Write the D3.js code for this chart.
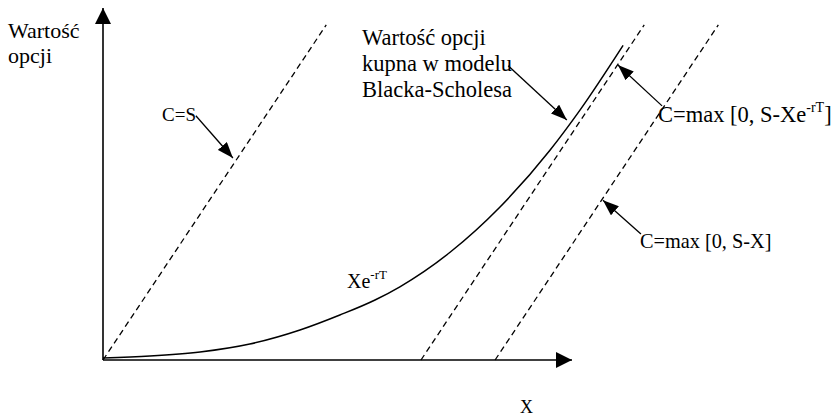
<!DOCTYPE html>
<html>
<head>
<meta charset="utf-8">
<script src="https://cdn.jsdelivr.net/npm/d3@7"></script>
<style>
  body { margin: 0; background: #fff; }
  text { font-family: "Liberation Serif", "Times New Roman", serif; fill: #000; }
</style>
</head>
<body>
<svg id="chart" width="835" height="418"></svg>
<script>
// schematic values: S on the x axis, C (option value) on the y axis
const discountedStrike = 67.8;   // X e^-rT
const strike = 83.6;             // X
const lineTop = 47.6;            // C where the dashed lines stop

// Black-Scholes call value
const bsS = [0, 10, 20.7, 31.3, 42, 50.5, 58, 63.3, 74, 84.6, 95.3, 101.7, 110.9];
const bsC = [0.3, 0.57, 1.14, 2.27, 4.26, 6.39, 8.52, 10.4, 15.3, 21.7, 29.8, 35.5, 44.7];

// annotation arrows [fromS, fromC, toS, toC]
const arrows = [
  [19.8, 34.7, 27.7, 28.7],   // C=S
  [86.4, 41.8, 98.9, 34.1],   // Black-Scholes
  [119.2, 36.1, 109.8, 41.9], // C=max [0, S-Xe^-rT]
  [114.7, 17.9, 106.6, 22.7]  // C=max [0, S-X]
];

const svg = d3.select("#chart");
const x = d3.scaleLinear().domain([0, 100]).range([103, 572]);
const y = d3.scaleLinear().domain([0, 50]).range([360, 8]);

const defs = svg.append("defs");
defs.append("marker").attr("id", "axisHead")
  .attr("viewBox", "0 0 16 16").attr("refX", 16).attr("refY", 8)
  .attr("markerWidth", 16).attr("markerHeight", 16)
  .attr("markerUnits", "userSpaceOnUse").attr("orient", "auto")
  .append("path").attr("d", "M0,0 L16,8 L0,16 Z").attr("fill", "#000");
defs.append("marker").attr("id", "noteHead")
  .attr("viewBox", "0 0 16 12").attr("refX", 16).attr("refY", 6)
  .attr("markerWidth", 16).attr("markerHeight", 12)
  .attr("markerUnits", "userSpaceOnUse").attr("orient", "auto")
  .append("path").attr("d", "M0,0 L16,6 L0,12 Z").attr("fill", "#000");

// axes
svg.append("line")
  .attr("x1", x(0)).attr("y1", y(0)).attr("x2", x(0)).attr("y2", y(50))
  .attr("stroke", "#000").attr("stroke-width", 1.6).attr("marker-end", "url(#axisHead)");
svg.append("line")
  .attr("x1", x(0)).attr("y1", y(0)).attr("x2", x(100)).attr("y2", y(0))
  .attr("stroke", "#000").attr("stroke-width", 1.6).attr("marker-end", "url(#axisHead)");

// dashed payoff lines
const starts = [0, discountedStrike, strike];
svg.selectAll(".payoff").data(starts).enter().append("line")
  .attr("class", "payoff")
  .attr("x1", d => x(d)).attr("y1", y(0))
  .attr("x2", d => x(d + lineTop)).attr("y2", y(lineTop))
  .attr("stroke", "#000").attr("stroke-width", 1.3).attr("stroke-dasharray", "6,4");

// Black-Scholes curve
const bs = bsS.map((s, i) => [s, bsC[i]]);
svg.append("path")
  .attr("d", d3.line().x(d => x(d[0])).y(d => y(d[1])).curve(d3.curveMonotoneX)(bs))
  .attr("fill", "none").attr("stroke", "#000").attr("stroke-width", 1.5);

// annotation arrows
svg.selectAll(".note").data(arrows).enter().append("line")
  .attr("class", "note")
  .attr("x1", d => x(d[0])).attr("y1", d => y(d[1]))
  .attr("x2", d => x(d[2])).attr("y2", d => y(d[3]))
  .attr("stroke", "#000").attr("stroke-width", 1.3).attr("marker-end", "url(#noteHead)");

// texts
const plain = (tx, ty, size, str) => svg.append("text")
  .attr("x", tx).attr("y", ty).style("font-size", size + "px").text(str);
plain(8, 38, 22, "Wartość");
plain(8, 63, 22, "opcji");
plain(362, 45, 22.5, "Wartość opcji");
plain(362, 71, 22.5, "kupna w modelu");
plain(362, 97, 22.5, "Blacka-Scholesa");
plain(162, 121, 19, "C=S");
plain(640, 248, 20.3, "C=max [0, S-X]");
plain(520, 413, 18, "X");

const xe = svg.append("text").attr("x", 347).attr("y", 288).style("font-size", "20px");
xe.append("tspan").text("Xe");
xe.append("tspan").attr("dy", -9).style("font-size", "13px").text("-rT");

const cm = svg.append("text").attr("x", 658).attr("y", 122).style("font-size", "22.5px");
cm.append("tspan").text("C=max [0, S-Xe");
cm.append("tspan").attr("dy", -10).style("font-size", "14px").text("-rT");
cm.append("tspan").attr("dy", 10).text("]");
</script>
</body>
</html>
